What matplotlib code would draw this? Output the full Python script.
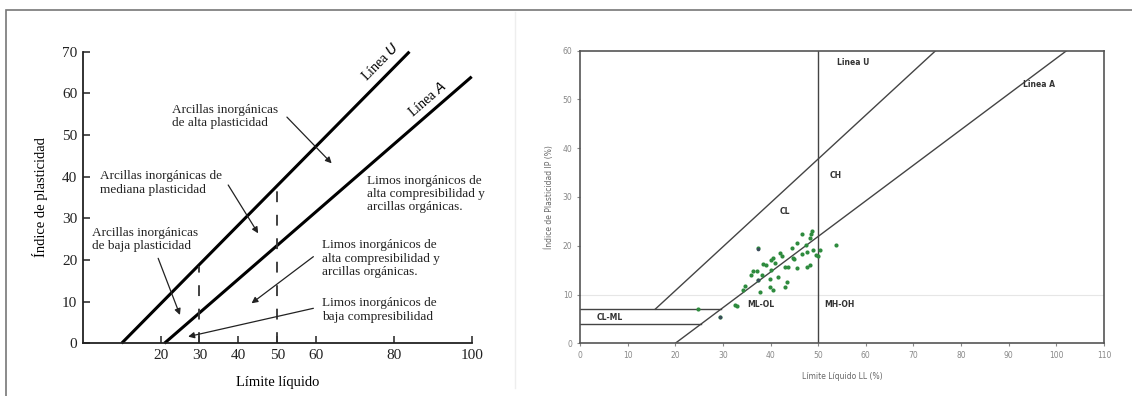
import numpy as np
import matplotlib
matplotlib.use("Agg")
import matplotlib.pyplot as plt
from matplotlib.patches import Rectangle

# ---- left panel: Casagrande chart ----
u_line_ll = [10, 84]
u_line_pi = [0, 70]
a_line_ll = [21, 100]
a_line_pi = [0, 64]
dash_ll = [30, 50]
dash_top = [18.5, 39]
left_xticks = [20, 30, 40, 50, 60, 80, 100]
left_yticks = [0, 10, 20, 30, 40, 50, 60, 70]

# (text, text position LL/PI, arrow head LL/PI or None)
left_notes = [
    ("Arcillas inorgánicas\nde alta plasticidad", (23, 57.5), (52.5, 54.3), (64, 43.2)),
    ("Arcillas inorgánicas de\nmediana plasticidad", (4.5, 41.5), (37.4, 38.0), (45.1, 26.4)),
    ("Arcillas inorgánicas\nde baja plasticidad", (2.5, 28.0), (19.4, 20.4), (25.0, 6.8)),
    ("Limos inorgánicos de\nalta compresibilidad y\narcillas orgánicas.", (73, 40.5), None, None),
    ("Limos inorgánicos de\nalta compresibilidad y\narcillas orgánicas.", (61.5, 25.0), (59.3, 20.8), (43.4, 9.6)),
    ("Limos inorgánicos de\nbaja compresibilidad", (61.5, 11.0), (59.3, 8.4), (27.1, 1.6)),
]

# ---- right panel: plasticity chart with samples ----
ll_samples = [37.3, 48.6, 48.5, 48.3, 46.5, 45.5, 47.5, 48.9, 50.3, 53.7, 50.0, 47.6,
              46.5, 44.8, 42.3, 40.6, 40.0, 38.5, 43.0, 43.7, 45.5, 48.3, 47.7, 36.4,
              37.1, 40.2, 38.3, 39.9, 41.6, 37.4, 43.4, 43.0, 39.9, 40.5, 37.8, 34.6,
              34.3, 32.5, 33.0, 24.8, 29.4, 42.0, 44.5, 41.0, 39.0, 36.0, 49.5, 45.0]
pi_samples = [19.5, 23.1, 22.4, 21.6, 22.3, 20.6, 20.1, 19.2, 19.2, 20.1, 17.8, 18.8,
              18.3, 17.5, 17.8, 17.5, 17.0, 16.3, 15.6, 15.6, 15.4, 16.0, 15.6, 14.9,
              14.8, 15.1, 13.9, 13.2, 13.5, 13.0, 12.6, 11.6, 11.6, 11.0, 10.6, 11.7,
              11.0, 7.9, 7.7, 7.0, 5.3, 18.5, 19.5, 16.5, 16.0, 14.0, 18.0, 17.2]
dark_ll = [37.4, 37.4, 29.4]
dark_pi = [19.4, 13.0, 5.3]

r_u_ll = [15.8, 74.7]
r_u_pi = [7, 60]
r_a_ll = [20, 102.2]
r_a_pi = [0, 60]
right_labels = [("Linea U", 54.0, 57.5), ("Linea A", 93.0, 53.0), ("CH", 52.3, 34.3),
                ("CL", 42.0, 27.0), ("CL-ML", 3.5, 5.3), ("ML-OL", 35.2, 7.9),
                ("MH-OH", 51.3, 7.9)]

fig = plt.figure(figsize=(11.32, 3.96), dpi=100)
fig.patches.append(Rectangle((6 / 1132, -0.1), 1.2, (386 / 396) + 0.1, transform=fig.transFigure,
                             fill=False, edgecolor="#777777", lw=1.2))
fig.add_artist(plt.Line2D([515 / 1132, 515 / 1132], [0.02, 0.97], color="#eeeeee", lw=1.0))

serif = ["Liberation Serif", "DejaVu Serif"]

# left axes
ax = fig.add_axes([82.7 / 1132, 52.7 / 396, 389 / 1132, 291.6 / 396])
ax.set_xlim(0, 100)
ax.set_ylim(0, 70)
for s in ["top", "right"]:
    ax.spines[s].set_visible(False)
for s in ["left", "bottom"]:
    ax.spines[s].set_linewidth(1.3)
    ax.spines[s].set_color("#222222")
ax.set_xticks(left_xticks)
ax.set_yticks(left_yticks)
ax.tick_params(direction="in", length=5, width=1.1, labelsize=11, colors="#222222", pad=4)
for lab in ax.get_xticklabels() + ax.get_yticklabels():
    lab.set_family(serif)
ax.plot(u_line_ll, u_line_pi, color="black", lw=2.2, clip_on=False, solid_capstyle="butt")
ax.plot(a_line_ll, a_line_pi, color="black", lw=2.2, clip_on=False, solid_capstyle="butt")
for x, top in zip(dash_ll, dash_top):
    ax.plot([x, x], [0, top], color="#333333", lw=1.3, dashes=(6, 7))
for txt, pos, tail, head in left_notes:
    ax.text(pos[0], pos[1], txt, family=serif, fontsize=9.5, va="top", ha="left",
            linespacing=1.15, color="#222222")
    if head is not None:
        ax.annotate("", xy=head, xytext=tail,
                    arrowprops=dict(arrowstyle="-|>", color="#222222", lw=0.9,
                                    mutation_scale=9, shrinkA=0, shrinkB=0))
ax.text(76.5, 67.5, "Línea $U$", family=serif, fontsize=10, rotation=45.5,
        ha="center", va="center")
ax.text(88.5, 58.5, "Línea $A$", family=serif, fontsize=10, rotation=41,
        ha="center", va="center")
ax.set_xlabel("Límite líquido", family=serif, fontsize=10.5, labelpad=10)
ax.set_ylabel("Índice de plasticidad", family=serif, fontsize=10.5, labelpad=10)

# right axes
ax2 = fig.add_axes([580 / 1132, 52.7 / 396, 524 / 1132, 292.8 / 396])
ax2.set_xlim(0, 110)
ax2.set_ylim(0, 60)
for s in ax2.spines.values():
    s.set_color("#555555")
    s.set_linewidth(1.2)
ax2.set_xticks(np.arange(0, 111, 10))
ax2.set_yticks(np.arange(0, 61, 10))
ax2.tick_params(length=2.5, width=0.8, labelsize=5.5, colors="#888888", pad=3)
ax2.axhline(10, color="#e6e6e6", lw=0.8, zorder=0)
ax2.plot(r_u_ll, r_u_pi, color="#444444", lw=1.0)
ax2.plot(r_a_ll, r_a_pi, color="#444444", lw=1.0)
ax2.plot([50, 50], [0, 60], color="#444444", lw=1.0)
ax2.plot([0, 29.6], [7, 7], color="#444444", lw=1.0)
ax2.plot([0, 25.5], [4, 4], color="#444444", lw=1.0)
ax2.scatter(ll_samples, pi_samples, s=9, color="#2e8b3e", zorder=3, linewidths=0)
ax2.scatter(dark_ll, dark_pi, s=7, color="#3a4a5a", zorder=4, linewidths=0)
for txt, x, y in right_labels:
    ax2.text(x, y, txt, fontsize=5.5, fontweight="bold", color="#333333",
             ha="left", va="center")
ax2.set_xlabel("Límite Líquido LL (%)", fontsize=5.5, color="#666666", labelpad=9)
ax2.set_ylabel("Índice de Plasticidad IP (%)", fontsize=5.5, color="#666666", labelpad=6)

fig.savefig("out.png", dpi=100)
